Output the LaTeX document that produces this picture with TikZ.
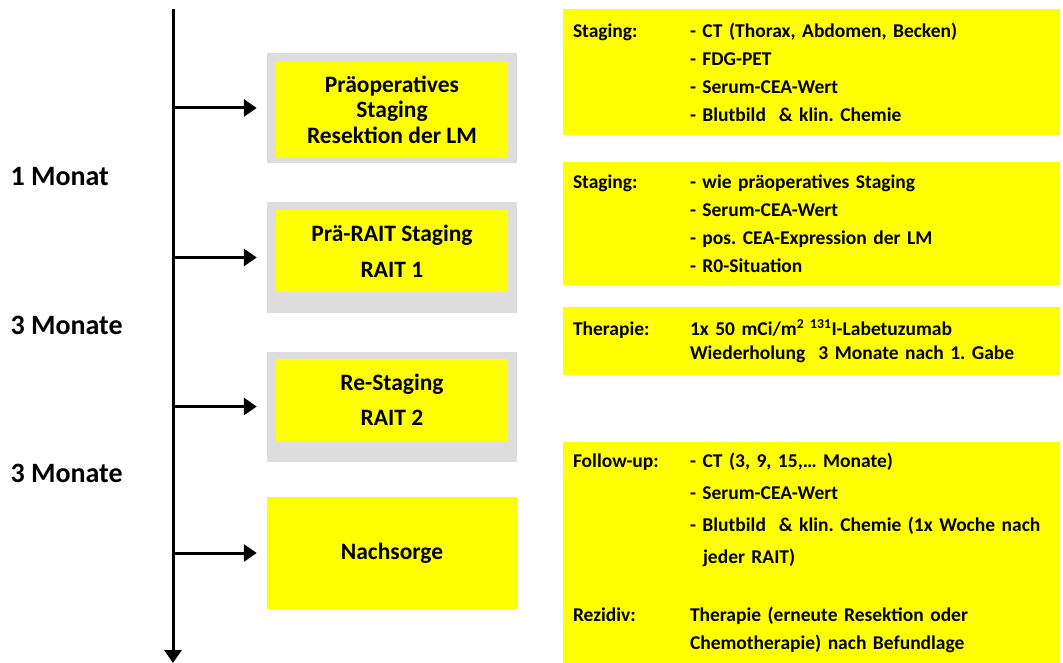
\documentclass[tikz,border=0pt]{standalone}
\usepackage{fontspec}
\setmainfont{Carlito}
\usetikzlibrary{arrows.meta,positioning}

\definecolor{stageyellow}{RGB}{255,255,0}
\definecolor{framegray}{RGB}{221,221,221}
\newcommand{\lab}[1]{\makebox[117pt][l]{#1}}
\newcommand{\ind}{\hspace*{117pt}}
\frenchspacing

\begin{document}
\begin{tikzpicture}[
    x=1pt, y=-1pt,
    frame/.style={rectangle, fill=framegray, minimum width=250pt, minimum height=110pt, inner sep=0pt},
    stage/.style={rectangle, fill=stageyellow, minimum width=232pt, align=center, inner sep=0pt, font=\fontsize{23.5}{25.5}\selectfont\bfseries},
    info/.style={rectangle, fill=stageyellow, minimum width=497pt, text width=477pt, inner xsep=10pt, inner ysep=0pt, align=left, font=\fontsize{19.5}{28}\selectfont\bfseries},
    time/.style={anchor=west, font=\fontsize{28}{30}\selectfont\bfseries},
    arr/.style={-{Triangle[length=13pt, width=17pt]}, line width=3pt}
  ]
    \useasboundingbox (0,0) rectangle (1063,663);

    % time axis
    \coordinate (top) at (173,9);
    \coordinate (bot) at (173,663);
    \draw[arr] (top) -- (bot);
    \node[time] (m1) at (7,177) {1 Monat};
    \node[time] (m2) at (7,325) {3 Monate};
    \node[time] (m3) at (7,473) {3 Monate};

    % stages
    \node[frame] (preop-f) at (392,108) {};
    \node[stage, minimum height=95pt] (preop) at (392,109.5) {Präoperatives\\Staging\\Resektion der LM};
    \node[frame] (prerait-f) at (392,257.5) {};
    \node[stage, minimum height=82pt, font=\fontsize{23.5}{36}\selectfont\bfseries] (prerait) at (392,251) {Prä-RAIT Staging\\RAIT 1};
    \node[frame] (restage-f) at (392,406.5) {};
    \node[stage, minimum height=82pt, font=\fontsize{23.5}{35}\selectfont\bfseries] (restage) at (392,400) {Re-Staging\\RAIT 2};
    \node[stage, minimum width=250pt, minimum height=112pt] (nach) at (392,553) {Nachsorge};

    \foreach \f in {preop-f, prerait-f, restage-f, nach}
      \draw[arr] (top |- \f.west) -- ([xshift=-10pt]\f.west);

    % details
    \node[info, minimum height=126pt] (stagA) at (811.5,72) {\lab{Staging:}- CT (Thorax, Abdomen, Becken)\\
      \ind- FDG-PET\\
      \ind- Serum-CEA-Wert\\
      \ind- Blutbild~ \& klin. Chemie};
    \node[info, minimum height=123pt] (stagB) at (811.5,223.5) {\lab{Staging:}- wie präoperatives Staging\\
      \ind- Serum-CEA-Wert\\
      \ind- pos. CEA-Expression der LM\\
      \ind- R0-Situation};
    \node[info, minimum height=68pt, font=\fontsize{19.5}{24}\selectfont\bfseries] (ther) at (811.5,341) {\lab{Therapie:}1x 50 mCi/m\textsuperscript{2 131}I-Labetuzumab\\
      \ind Wiederholung~ 3 Monate nach 1. Gabe};
    \node[info, minimum height=221pt, font=\fontsize{19.5}{32}\selectfont\bfseries] (follow) at (811.5,552.5) {\lab{Follow-up:}- CT (3, 9, 15,\dots\ Monate)\\
      \ind- Serum-CEA-Wert\\
      \ind- Blutbild~ \& klin. Chemie (1x Woche nach\\
      \hspace*{130pt}jeder RAIT)\\[26pt]
      \lab{Rezidiv:}Therapie (erneute Resektion oder\\[-4pt]
      \ind Chemotherapie) nach Befundlage};
\end{tikzpicture}
\end{document}
